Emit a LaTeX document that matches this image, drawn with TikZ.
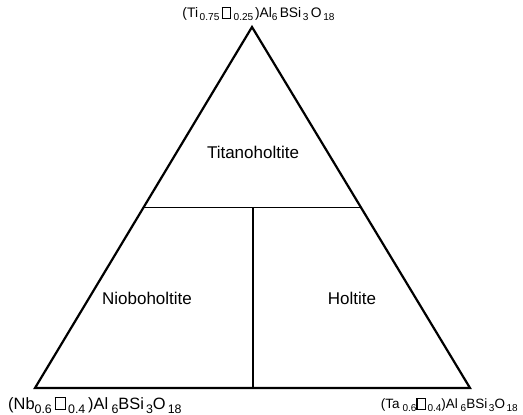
\documentclass[tikz,border=0pt]{standalone}
\usepackage{fontspec}
\setmainfont{Liberation Sans}
\usetikzlibrary{calc}
\newcommand{\subsz}{12pt}
\newcommand{\lowr}[1]{\raisebox{-0.45ex}{\fontsize{\subsz}{\subsz}\selectfont #1}}
\newcommand{\vacbox}{{\setlength\fboxsep{0pt}\setlength\fboxrule{1.2pt}\framebox[0.7em]{\rule{0pt}{0.68em}}}}
\begin{document}
\begin{tikzpicture}[x=1pt,y=1pt,
  edge/.style={line width=2.2pt, line join=miter},
  divider/.style={line width=1.3pt},
  field/.style={font=\fontsize{17}{19}\selectfont},
  corner/.style={font=\fontsize{16.4}{18}\selectfont\renewcommand{\subsz}{12.4pt}, inner sep=0pt},
  topcorner/.style={font=\fontsize{13.8}{16}\selectfont\renewcommand{\subsz}{10.1pt}, inner sep=0pt},
  smallcorner/.style={font=\fontsize{13.5}{16}\selectfont\renewcommand{\subsz}{10pt}, inner sep=0pt}]
\useasboundingbox (0,0) rectangle (523,415);
\coordinate (T) at (252,388);
\coordinate (L) at (35,27);
\coordinate (R) at (470,27);
\coordinate (ML) at ($(T)!0.5!(L)$);
\coordinate (MR) at ($(T)!0.5!(R)$);
\coordinate (MM) at (253,207.5);
\coordinate (MB) at (253,27);
\draw[edge] (T) -- (L) -- (R) -- cycle;
\draw[divider] (ML) -- (MR);
\draw[divider] (MM) -- (MB);
\node[field] (ti) at (253,263) {Titanoholtite};
\node[field] (nb) at (147,117) {Nioboholtite};
\node[field] (ho) at (352,117) {Holtite};
\node[topcorner] (ct) at (258.5,401) {(Ti\lowr{\,0.75}\,\vacbox\,\lowr{0.25\,})Al\lowr{6}\,BSi\lowr{\,3}\,O\lowr{\,18}};
\node[corner, anchor=west] (cl) at (8,10) {(Nb\lowr{0.6}\,\vacbox\lowr{\,0.4}\,)Al\lowr{ 6}BSi\lowr{\,3}O\lowr{\,18}};
\node[smallcorner, anchor=east] (cr) at (518,10) {(Ta\lowr{ 0.6}\vacbox\lowr{\,0.4})Al\lowr{ 6}BSi\lowr{\,3}O\lowr{\,18}};
\end{tikzpicture}
\end{document}
